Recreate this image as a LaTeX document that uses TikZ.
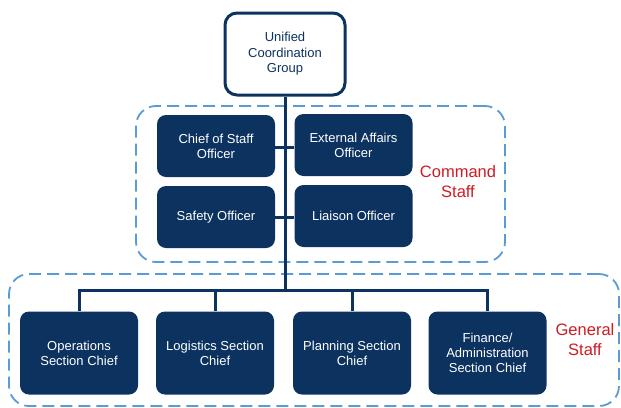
\documentclass[tikz,border=0pt]{standalone}
\usepackage{fontspec}
\setmainfont{Liberation Sans}
\usetikzlibrary{backgrounds}
\definecolor{navy}{RGB}{12,50,96}
\definecolor{dashblue}{RGB}{91,155,213}
\definecolor{staffred}{RGB}{204,28,36}
\tikzset{
  navybox/.style={rectangle, rounded corners=9pt, fill=navy, draw=none, text=white,
    inner sep=0pt, align=center, font=\fontsize{13}{15}\selectfont},
  topbox/.style={rectangle, rounded corners=12pt, fill=white, draw=navy, line width=3pt,
    text=navy, inner sep=0pt, align=center, font=\fontsize{13}{15.5}\selectfont,
    minimum width=120pt, minimum height=82pt},
  dashbox/.style={rectangle, rounded corners=20pt, draw=dashblue, line width=1.8pt,
    dash pattern=on 12pt off 6pt, inner sep=0pt},
  grouplabel/.style={text=staffred, align=center, font=\fontsize{16.5}{20}\selectfont, inner sep=0pt},
  link/.style={draw=navy, line width=3pt},
  cmdsize/.style={minimum width=118pt, minimum height=62pt},
  gensize/.style={minimum width=118pt, minimum height=83pt}
}
\begin{document}
\begin{tikzpicture}[x=1pt,y=-1pt]
\useasboundingbox (0,0) rectangle (621,407);
% nodes
\node[topbox] (ucg) at (285,54) {Unified\\Coordination\\Group};
\node[navybox, cmdsize] (cos) at (216,146) {Chief of Staff\\Officer};
\node[navybox, cmdsize] (ext) at (353.5,145) {External Affairs\\Officer};
\node[navybox, cmdsize] (saf) at (216,217) {Safety Officer};
\node[navybox, cmdsize] (lia) at (353.5,216) {Liaison Officer};
\node[navybox, gensize] (ops) at (79,353) {Operations\\Section Chief};
\node[navybox, gensize] (log) at (215,353) {Logistics Section\\Chief};
\node[navybox, gensize] (pla) at (352,353) {Planning Section\\Chief};
\node[navybox, gensize] (fin) at (487.5,353) {Finance/\\Administration\\Section Chief};
\node[grouplabel] (cmdlabel) at (458,182) {Command\\Staff};
\node[grouplabel] (genlabel) at (585,340) {General\\Staff};
\coordinate (bar) at (285,290);
\begin{scope}[on background layer]
% group frames
\node[dashbox, minimum width=369pt, minimum height=156pt] (cmdframe) at (320.5,184) {};
\node[dashbox, minimum width=610pt, minimum height=132pt] (genframe) at (314,340) {};
% connectors
\draw[link] (ucg.south) -- (bar);
\draw[link] (ops.north) |- (bar);
\draw[link] (log.north) |- (bar);
\draw[link] (pla.north) |- (bar);
\draw[link] (fin.north) |- (bar);
\draw[link] (cos.east |- 0,147) -- (ext.west |- 0,147);
\draw[link] (saf.east |- 0,217) -- (lia.west |- 0,217);
\end{scope}
\end{tikzpicture}
\end{document}
